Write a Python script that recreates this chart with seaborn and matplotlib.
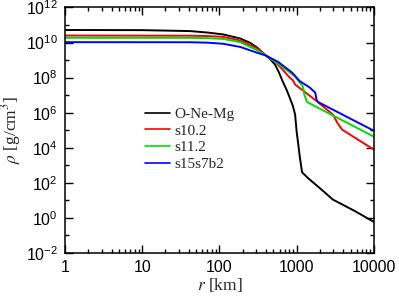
import numpy as np
import pandas as pd
import matplotlib
matplotlib.use("Agg")
import matplotlib.pyplot as plt
import matplotlib.ticker as mticker
import seaborn as sns

# radius [km] and density [g/cm^3]
r_onemg = [1, 10, 41.7, 70.8, 112, 186, 251, 309, 389, 457, 525, 589, 661, 741, 813,
           891, 955, 1000, 1047, 1096, 1175, 1413, 1995, 2951, 5623, 10000]
rho_onemg = [5.2e10, 5.1e10, 4.5e10, 3.7e10, 2.9e10, 1.7e10, 9.5e9, 5.1e9, 2.0e9,
             1.1e9, 5.5e8, 2.0e8, 5.9e7, 2.0e7, 7.2e6, 2.5e6, 7.8e5, 8.1e4, 1.7e4,
             3.2e3, 400, 180, 50, 11, 2.5, 0.59]

r_s102 = [1, 41.7, 70.8, 112, 186, 309, 389, 525, 661, 813, 891, 955, 1259, 1820,
          2951, 3388, 3890, 10000]
rho_s102 = [2.5e10, 2.45e10, 2.35e10, 2.1e10, 1.3e10, 4.6e9, 2.0e9, 8.1e8, 2.8e8,
            1.0e8, 7.1e7, 4.0e7, 1.6e7, 4.5e6, 7.8e5, 2.5e5, 1.07e5, 7.8e3]

r_s112 = [1, 41.7, 70.8, 112, 186, 309, 389, 575, 955, 1202, 1259, 1349, 1413, 10000]
rho_s112 = [1.86e10, 1.85e10, 1.78e10, 1.6e10, 1.05e10, 3.6e9, 2.0e9, 6.3e8, 1.15e8,
            3.1e7, 1.07e7, 4.3e6, 3.7e6, 4.3e4]

r_s15 = [1, 41.7, 70.8, 112, 186, 309, 389, 575, 871, 1096, 1479, 1738, 1820, 1905,
         10000]
rho_s15 = [1.05e10, 1.04e10, 9.8e9, 8.5e9, 5.6e9, 2.6e9, 1.9e9, 7.9e8, 1.95e8, 6.3e7,
           2.7e7, 1.4e7, 5.0e6, 4.0e6, 9.3e4]

models = ["O-Ne-Mg", "s10.2", "s11.2", "s15s7b2"]
colors = ["black", "red", "#00dd00", "blue"]

frames = []
for name, r, rho in zip(models, [r_onemg, r_s102, r_s112, r_s15],
                        [rho_onemg, rho_s102, rho_s112, rho_s15]):
    frames.append(pd.DataFrame({"r": r, "rho": rho, "model": name}))
df = pd.concat(frames, ignore_index=True)

sns.set_style("ticks")
plt.rcParams['font.family'] = ['Liberation Sans', 'DejaVu Sans']
plt.rcParams['mathtext.fontset'] = 'stix'
plt.rcParams['axes.unicode_minus'] = False

fig = plt.figure(figsize=(3.99, 2.99), dpi=100)
ax = fig.add_axes([0.163, 0.154, 0.774, 0.821])

sns.lineplot(data=df, x="r", y="rho", hue="model", hue_order=models,
             palette=colors, sort=False, estimator=None, linewidth=1.4, ax=ax)

ax.set_xscale("log")
ax.set_yscale("log")
ax.set_xlim(1, 1e4)
ax.set_ylim(1e-2, 1e12)

ax.xaxis.set_major_locator(mticker.LogLocator(base=10, numticks=10))
ax.xaxis.set_minor_locator(mticker.LogLocator(base=10, subs=np.arange(2, 10), numticks=20))
ax.xaxis.set_major_formatter(mticker.FuncFormatter(lambda v, p: f"{v:g}"))
ax.yaxis.set_major_locator(mticker.FixedLocator([10.0**k for k in range(-2, 13, 2)]))
ax.yaxis.set_minor_locator(mticker.FixedLocator([10.0**k for k in range(-1, 12, 2)]))
ax.yaxis.set_major_formatter(mticker.LogFormatterSciNotation())
ax.yaxis.set_minor_formatter(mticker.NullFormatter())

ax.tick_params(which="both", direction="in", top=True, right=True, width=1, colors="black")
ax.tick_params(which="major", length=6, labelsize=11.5, pad=5)
ax.tick_params(which="minor", length=3)
for s in ax.spines.values():
    s.set_linewidth(1.1)
    s.set_color("black")

ax.set_xlabel("$r$ [km]", family="Liberation Serif", fontsize=12.5, labelpad=1)
ax.set_ylabel(r"$\rho$ [g/cm$^3$]", family="Liberation Serif", fontsize=12.5, labelpad=2)

leg = ax.legend(loc="upper left", bbox_to_anchor=(0.235, 0.625), frameon=False,
                prop={"family": "Liberation Serif", "size": 11}, handlelength=1.6,
                handletextpad=0.3, labelspacing=0.2, borderpad=0)
for h in leg.get_lines():
    h.set_linewidth(1.2)

fig.savefig("out.png", dpi=100)
